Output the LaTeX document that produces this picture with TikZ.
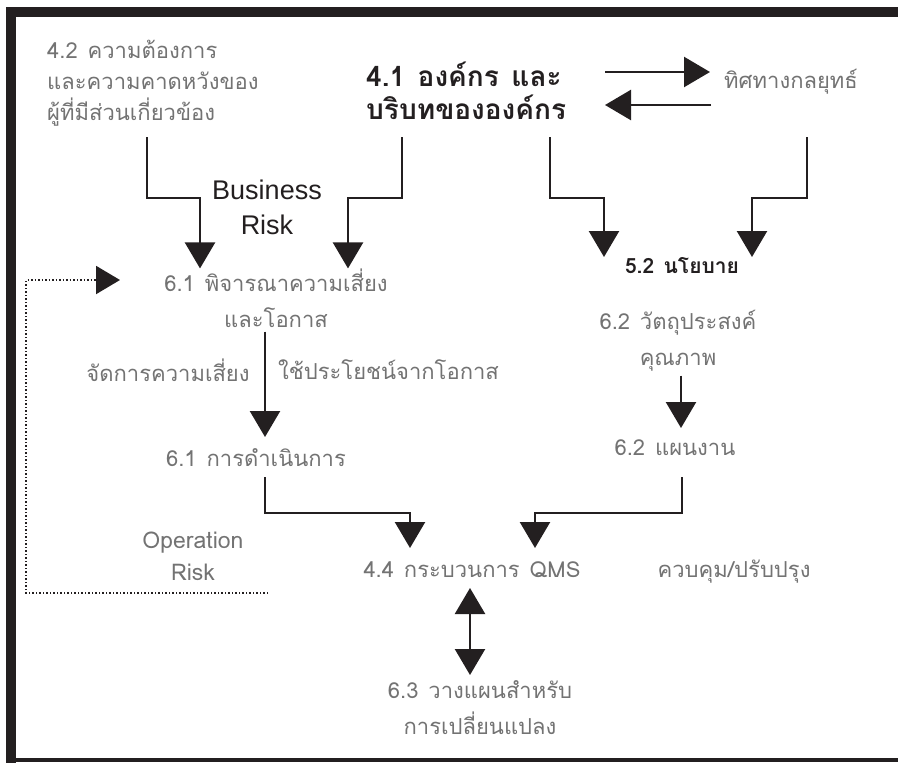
\documentclass[tikz,border=0pt]{standalone}
\usepackage{fontspec}
\newfontfamily\thaifont[Script=Thai]{Loma}
\newfontfamily\latinfont{Liberation Sans}
\usetikzlibrary{arrows.meta,calc}
\definecolor{ink}{HTML}{231F20}
\definecolor{soft}{HTML}{737373}
\newcommand{\numgap}{\hspace{0.45em}}
\tikzset{
  flow/.style={draw=ink, line width=2.4pt, -{Triangle[width=30pt,length=26pt]}},
  twoway/.style={draw=ink, line width=2.4pt, {Triangle[width=30pt,length=26pt]}-{Triangle[width=30pt,length=26pt]}},
  loopback/.style={draw=ink, line width=2pt, dash pattern=on 1.5pt off 2pt, -{Triangle[width=28pt,length=24pt]}},
  graytxt/.style={text=soft, inner sep=0pt, font=\thaifont\fontsize{22}{36}\selectfont},
  boldtxt/.style={text=ink, inner sep=0pt, font=\thaifont\bfseries\fontsize{28}{33}\selectfont},
}
\begin{document}
\begin{tikzpicture}[x=1pt,y=-1pt]
\useasboundingbox (0,0) rectangle (898,763);
% frame
\fill[ink] (6,7) rectangle (898,17);
\fill[ink] (6,7) rectangle (16,763);
\fill[ink] (16,758) rectangle (898,762);

% text blocks
\node[graytxt, align=left, anchor=west, font=\thaifont\fontsize{22}{31}\selectfont] (n42) at (47,83)
  {4.2\numgap ความต้องการ\\และความคาดหวังของ\\ผู้ที่มีส่วนเกี่ยวข้อง};
\node[boldtxt, align=left, anchor=west] (n41) at (366,91)
  {4.1\numgap องค์กร\numgap และ\\บริบทขององค์กร};
\node[graytxt, anchor=west] (nstr) at (724,82) {ทิศทางกลยุทธ์};
\node[text=ink, inner sep=0pt, align=center, font=\latinfont\fontsize{27}{35}\selectfont] (nbr) at (267,207)
  {Business\\Risk};
\node[graytxt, align=center] (n61a) at (276,298) {6.1\numgap พิจารณาความเสี่ยง\\และโอกาส};
\node[text=ink, inner sep=0pt, font=\thaifont\bfseries\fontsize{21}{26}\selectfont] (n52) at (682,266) {5.2\numgap นโยบาย};
\node[graytxt] (nmit) at (168,370) {จัดการความเสี่ยง};
\node[graytxt, anchor=west] (nopp) at (278,370) {ใช้ประโยชน์จากโอกาส};
\node[graytxt] (n61b) at (256,458) {6.1\numgap การดำเนินการ};
\node[graytxt, align=center] (n62a) at (678,341) {6.2\numgap วัตถุประสงค์\\คุณภาพ};
\node[graytxt] (n62b) at (675,448) {6.2\numgap แผนงาน};
\node[graytxt, align=center, font=\thaifont\fontsize{23}{32}\selectfont] (nor) at (193,556) {Operation\\Risk};
\node[graytxt] (n44) at (472,570) {4.4\numgap กระบวนการ\numgap QMS};
\node[graytxt] (nctl) at (734,572) {ควบคุม/ปรับปรุง};
\node[graytxt, align=center] (n63) at (480,708) {6.3\numgap วางแผนสำหรับ\\การเปลี่ยนแปลง};

% bend points
\coordinate (k1) at (147,198);
\coordinate (k2) at (200,198);
\coordinate (k3) at (402,198);
\coordinate (k4) at (348,198);
\coordinate (k5) at (550,198);
\coordinate (k6) at (604,198);
\coordinate (k7) at (807,198);
\coordinate (k8) at (752,198);
\coordinate (k9) at (265,513);
\coordinate (k10) at (410,513);
\coordinate (k11) at (682,513);
\coordinate (k12) at (535,513);
\coordinate (lp) at (268,593);

% strategy exchange
\draw[flow] ($(nstr.west)+(-119,-10)$) -- ($(nstr.west)+(-14,-10)$);
\draw[flow] ($(nstr.west)+(-13,23)$) -- ($(nstr.west)+(-119,23)$);

% inputs to 6.1 and 5.2
\draw[flow] (k1 |- 0,137) -- (k1) -- (k2) -- (k2 |- n61a.north);
\draw[flow] (k3 |- 0,137) -- (k3) -- (k4) -- (k4 |- n61a.north);
\draw[flow] (k5 |- 0,137) -- (k5) -- (k6) -- (k6 |- 0,257);
\draw[flow] (k7 |- 0,137) -- (k7) -- (k8) -- (k8 |- 0,257);

% risk treatment and planning
\draw[flow] (n61a.south -| 265,0) ++(0,4) -- (265,437);
\draw[flow] (n62a.south -| 681,0) ++(0,4) -- (681,428);

% into the QMS processes
\draw[flow] (k9 |- 0,477) -- (k9) -- (k10) -- (k10 |- 0,548);
\draw[flow] (k11 |- 0,477) -- (k11) -- (k12) -- (k12 |- 0,548);
\draw[twoway] (470,588) -- (470,675);

% feedback loop
\draw[loopback] (lp) -- (26,593) -- (26,280) -- (120,280);
\end{tikzpicture}
\end{document}
